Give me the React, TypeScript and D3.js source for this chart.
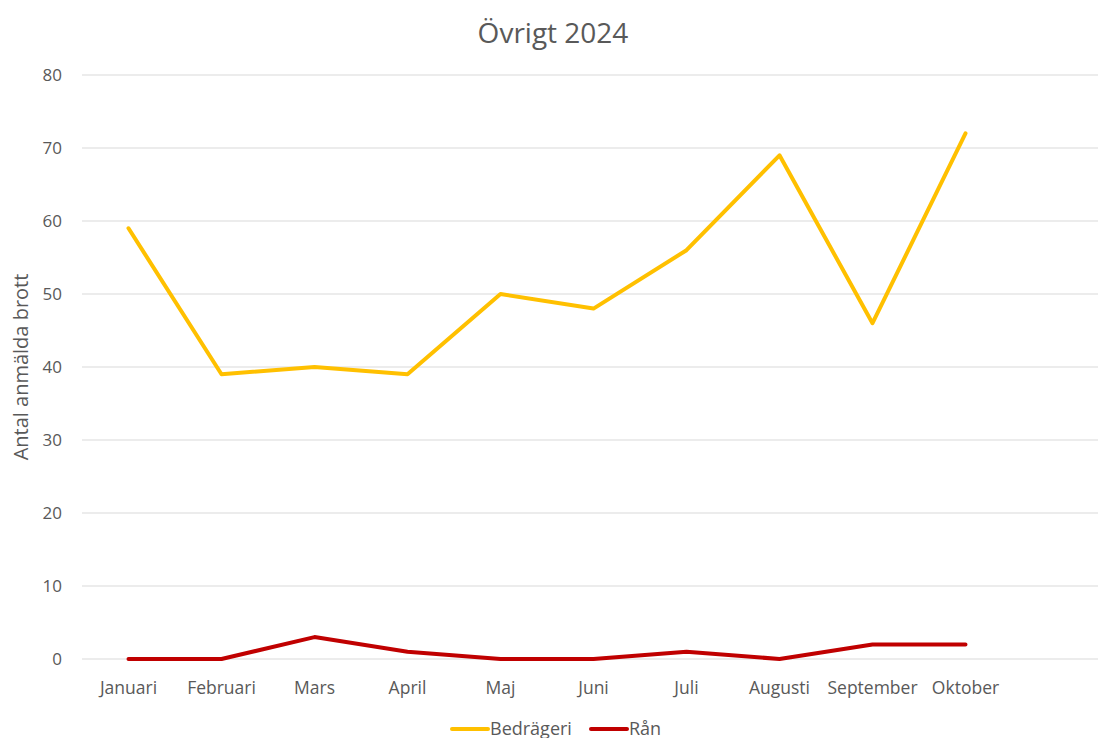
import { useEffect, useRef } from 'react'
import * as d3 from 'd3'

const months = ['Januari', 'Februari', 'Mars', 'April', 'Maj', 'Juni', 'Juli', 'Augusti', 'September', 'Oktober', '']
const bedrageri = [59, 39, 40, 39, 50, 48, 56, 69, 46, 72]
const ran = [0, 0, 3, 1, 0, 0, 1, 0, 2, 2]
const yTicks = [0, 10, 20, 30, 40, 50, 60, 70, 80]
const seriesNames = ['Bedrägeri', 'Rån']
const seriesColors = ['#FFC000', '#C00000']

const W = 1098
const H = 738
const FONT = 'Open Sans, Noto Sans, sans-serif'
const TEXT = '#595959'

export default function App() {
  const ref = useRef<SVGSVGElement | null>(null)

  useEffect(() => {
    const svg = d3.select(ref.current)
    svg.selectAll('*').remove()

    const x = d3.scaleBand<string>().domain(months).range([82, 1105])
    const y = d3.scaleLinear().domain([0, 80]).range([659, 75])
    const cx = (i: number) => (x(months[i]) ?? 0) + x.bandwidth() / 2

    // title
    svg.append('text')
      .attr('x', 553)
      .attr('y', 43)
      .attr('text-anchor', 'middle')
      .attr('fill', TEXT)
      .style('font-family', FONT)
      .style('font-size', '28px')
      .text('Övrigt 2024')

    // gridlines + tick labels
    yTicks.forEach((t) => {
      svg.append('line')
        .attr('x1', 82)
        .attr('x2', W)
        .attr('y1', y(t))
        .attr('y2', y(t))
        .attr('stroke', '#d9d9d9')
        .attr('stroke-width', 1)
      svg.append('text')
        .attr('x', 62)
        .attr('y', y(t))
        .attr('dy', '0.35em')
        .attr('text-anchor', 'end')
        .attr('fill', TEXT)
        .style('font-family', FONT)
        .style('font-size', '17px')
        .text(String(t))
    })

    // category labels
    months.forEach((m, i) => {
      if (!m) return
      svg.append('text')
        .attr('x', cx(i))
        .attr('y', 694)
        .attr('text-anchor', 'middle')
        .attr('fill', TEXT)
        .style('font-family', FONT)
        .style('font-size', '17.5px')
        .text(m)
    })

    // y axis title
    svg.append('text')
      .attr('transform', `translate(28,${y(40)}) rotate(-90)`)
      .attr('text-anchor', 'middle')
      .attr('fill', TEXT)
      .style('font-family', FONT)
      .style('font-size', '20px')
      .text('Antal anmälda brott')

    const line = d3.line<number>()
      .x((_d, i) => cx(i))
      .y((d) => y(d))

    ;[bedrageri, ran].forEach((vals, k) => {
      svg.append('path')
        .datum(vals)
        .attr('d', line)
        .attr('fill', 'none')
        .attr('stroke', seriesColors[k])
        .attr('stroke-width', 4)
        .attr('stroke-linejoin', 'round')
        .attr('stroke-linecap', 'round')
    })

    // legend
    const legendX = [452, 591]
    seriesNames.forEach((name, k) => {
      svg.append('line')
        .attr('x1', legendX[k])
        .attr('x2', legendX[k] + 36)
        .attr('y1', 729)
        .attr('y2', 729)
        .attr('stroke', seriesColors[k])
        .attr('stroke-width', 4)
        .attr('stroke-linecap', 'round')
      svg.append('text')
        .attr('x', legendX[k] + 38)
        .attr('y', 729)
        .attr('dy', '0.35em')
        .attr('fill', TEXT)
        .style('font-family', FONT)
        .style('font-size', '18px')
        .text(name)
    })
  }, [])

  return (
    <div style={{ position: 'fixed', left: 0, top: 0, width: W, height: H, overflow: 'hidden', background: '#fff' }}>
      <svg ref={ref} width={W} height={H} />
    </div>
  )
}
